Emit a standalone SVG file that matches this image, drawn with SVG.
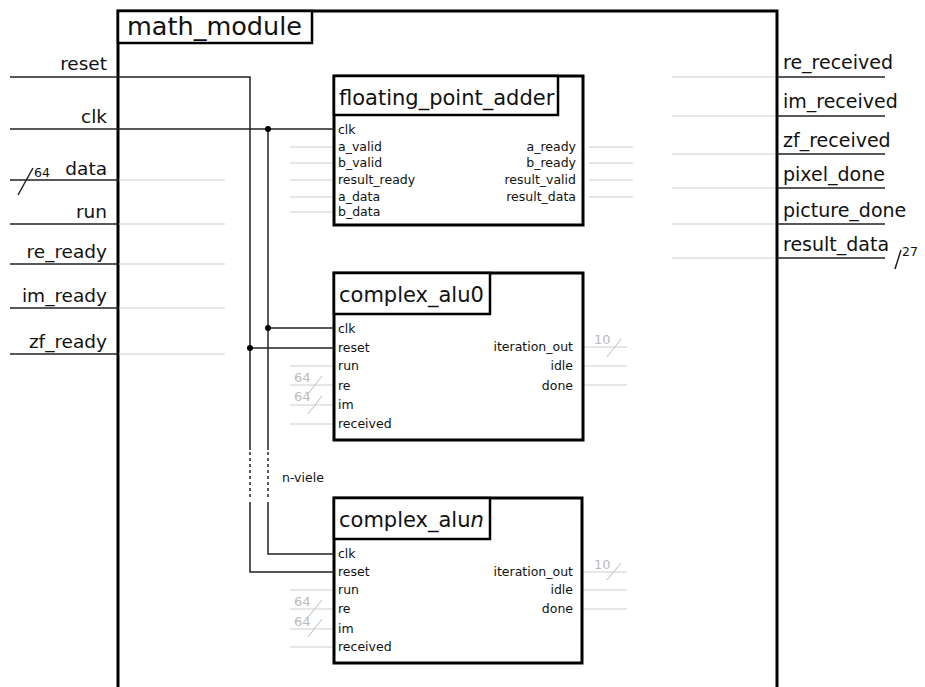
<svg xmlns="http://www.w3.org/2000/svg" width="925" height="687" viewBox="0 0 925 687">
  <style>
    text { font-family: "DejaVu Sans", "Liberation Sans", sans-serif; fill: #111; }
    .frame { fill: #fff; stroke: #000; stroke-width: 3; }
    .title { fill: #fff; stroke: #000; stroke-width: 2.5; }
    .sig { stroke: #222; stroke-width: 1.5; fill: none; }
    .dash { stroke: #222; stroke-width: 1.5; fill: none; stroke-dasharray: 3 3; }
    .ghost { stroke: #d0d0d0; stroke-width: 1.2; fill: none; }
    .lblL { font-size: 18.5px; text-anchor: end; }
    .lblR { font-size: 19px; }
    .ttl { font-size: 21px; }
    .port { font-size: 12.5px; }
    .portR { font-size: 12.5px; text-anchor: end; }
    .width { font-size: 12.5px; }
    .wgray { font-size: 13px; fill: #bbb; }
    .slashg { stroke: #bbb; stroke-width: 1; }
    .dot { fill: #000; }
  </style>

  <!-- top-level module frame -->
  <g id="math_module">
    <rect class="frame" x="118" y="11" width="659" height="690"/>
    <rect class="title" x="118" y="11" width="194" height="32"/>
    <text x="127" y="35" style="font-size:25.5px">math_module</text>
  </g>

  <!-- top-level ports, left side -->
  <g id="ports_in">
    <text class="lblL" x="107" y="70">reset</text>
    <text class="lblL" x="107" y="123">clk</text>
    <text class="lblL" x="107" y="175">data</text>
    <text class="width" x="34" y="177">64</text>
    <line class="sig" x1="18" y1="195" x2="33" y2="168"/>
    <text class="lblL" x="107" y="218">run</text>
    <text class="lblL" x="107" y="258">re_ready</text>
    <text class="lblL" x="107" y="302">im_ready</text>
    <text class="lblL" x="107" y="348">zf_ready</text>
    <line class="sig" x1="10" y1="180" x2="118" y2="180"/>
    <line class="sig" x1="10" y1="224" x2="118" y2="224"/>
    <line class="sig" x1="10" y1="264" x2="118" y2="264"/>
    <line class="sig" x1="10" y1="308" x2="118" y2="308"/>
    <line class="sig" x1="10" y1="354" x2="118" y2="354"/>
    <line class="ghost" x1="119" y1="180" x2="225" y2="180"/>
    <line class="ghost" x1="119" y1="224" x2="225" y2="224"/>
    <line class="ghost" x1="119" y1="264" x2="225" y2="264"/>
    <line class="ghost" x1="119" y1="308" x2="225" y2="308"/>
    <line class="ghost" x1="119" y1="354" x2="225" y2="354"/>
  </g>

  <!-- top-level ports, right side -->
  <g id="ports_out">
    <text class="lblR" x="783" y="69">re_received</text>
    <text class="lblR" x="783" y="108">im_received</text>
    <text class="lblR" x="783" y="147">zf_received</text>
    <text class="lblR" x="783" y="181">pixel_done</text>
    <text class="lblR" x="783" y="217">picture_done</text>
    <text class="lblR" x="783" y="251">result_data</text>
    <text class="width" x="902" y="256">27</text>
    <line class="sig" x1="895" y1="269" x2="901" y2="250"/>
    <line class="sig" x1="777" y1="77" x2="885" y2="77"/>
    <line class="sig" x1="777" y1="116" x2="885" y2="116"/>
    <line class="sig" x1="777" y1="154" x2="885" y2="154"/>
    <line class="sig" x1="777" y1="188" x2="885" y2="188"/>
    <line class="sig" x1="777" y1="224" x2="885" y2="224"/>
    <line class="sig" x1="777" y1="258" x2="885" y2="258"/>
    <line class="ghost" x1="672" y1="77" x2="775" y2="77"/>
    <line class="ghost" x1="672" y1="116" x2="775" y2="116"/>
    <line class="ghost" x1="672" y1="154" x2="775" y2="154"/>
    <line class="ghost" x1="672" y1="188" x2="775" y2="188"/>
    <line class="ghost" x1="672" y1="224" x2="775" y2="224"/>
    <line class="ghost" x1="672" y1="258" x2="775" y2="258"/>
  </g>

  <!-- floating point adder instance -->
  <g id="floating_point_adder">
    <line class="ghost" x1="290" y1="147" x2="334" y2="147"/>
    <line class="ghost" x1="290" y1="163" x2="334" y2="163"/>
    <line class="ghost" x1="290" y1="180" x2="334" y2="180"/>
    <line class="ghost" x1="290" y1="197" x2="334" y2="197"/>
    <line class="ghost" x1="290" y1="212" x2="334" y2="212"/>
    <line class="ghost" x1="589" y1="147" x2="633" y2="147"/>
    <line class="ghost" x1="589" y1="163" x2="633" y2="163"/>
    <line class="ghost" x1="589" y1="180" x2="633" y2="180"/>
    <line class="ghost" x1="589" y1="197" x2="633" y2="197"/>
    <rect class="frame" x="334" y="76" width="249" height="149"/>
    <rect class="title" x="334" y="76" width="224" height="39"/>
    <text class="ttl" x="339" y="105">floating_point_adder</text>
    <text class="port" x="338" y="134">clk</text>
    <text class="port" x="338" y="151">a_valid</text>
    <text class="port" x="338" y="167">b_valid</text>
    <text class="port" x="338" y="184">result_ready</text>
    <text class="port" x="338" y="201">a_data</text>
    <text class="port" x="338" y="216">b_data</text>
    <text class="portR" x="576" y="151">a_ready</text>
    <text class="portR" x="576" y="167">b_ready</text>
    <text class="portR" x="576" y="184">result_valid</text>
    <text class="portR" x="576" y="201">result_data</text>
  </g>

  <!-- complex ALU instance 0 -->
  <g id="complex_alu0">
    <line class="ghost" x1="290" y1="366" x2="334" y2="366"/>
    <line class="ghost" x1="290" y1="385" x2="334" y2="385"/>
    <line class="ghost" x1="290" y1="405" x2="334" y2="405"/>
    <line class="ghost" x1="290" y1="424" x2="334" y2="424"/>
    <text class="wgray" x="294" y="382">64</text>
    <line class="slashg" x1="308" y1="394" x2="322" y2="376"/>
    <text class="wgray" x="294" y="401">64</text>
    <line class="slashg" x1="308" y1="414" x2="322" y2="396"/>
    <line class="ghost" x1="583" y1="347" x2="627" y2="347"/>
    <line class="ghost" x1="583" y1="366" x2="627" y2="366"/>
    <line class="ghost" x1="583" y1="385" x2="627" y2="385"/>
    <text class="wgray" x="594" y="344">10</text>
    <line class="slashg" x1="607" y1="357" x2="621" y2="339"/>
    <rect class="frame" x="334" y="273" width="249" height="167"/>
    <rect class="title" x="334" y="273" width="156" height="41"/>
    <text class="ttl" x="339" y="302">complex_alu0</text>
    <text class="port" x="338" y="333">clk</text>
    <text class="port" x="338" y="352">reset</text>
    <text class="port" x="338" y="370">run</text>
    <text class="port" x="338" y="390">re</text>
    <text class="port" x="338" y="409">im</text>
    <text class="port" x="338" y="428">received</text>
    <text class="portR" x="573" y="351">iteration_out</text>
    <text class="portR" x="573" y="370">idle</text>
    <text class="portR" x="573" y="390">done</text>
  </g>

  <!-- complex ALU instance n -->
  <g id="complex_alun">
    <line class="ghost" x1="290" y1="590" x2="334" y2="590"/>
    <line class="ghost" x1="290" y1="609" x2="334" y2="609"/>
    <line class="ghost" x1="290" y1="629" x2="334" y2="629"/>
    <line class="ghost" x1="290" y1="647" x2="334" y2="647"/>
    <text class="wgray" x="294" y="606">64</text>
    <line class="slashg" x1="308" y1="617" x2="322" y2="600"/>
    <text class="wgray" x="294" y="626">64</text>
    <line class="slashg" x1="308" y1="637" x2="322" y2="619"/>
    <line class="ghost" x1="582" y1="572" x2="627" y2="572"/>
    <line class="ghost" x1="582" y1="590" x2="627" y2="590"/>
    <line class="ghost" x1="582" y1="609" x2="627" y2="609"/>
    <text class="wgray" x="594" y="569">10</text>
    <line class="slashg" x1="607" y1="580" x2="621" y2="563"/>
    <rect class="frame" x="334" y="498" width="248" height="165"/>
    <rect class="title" x="334" y="498" width="156" height="41"/>
    <text class="ttl" x="339" y="527">complex_alu<tspan font-style="italic">n</tspan></text>
    <text class="port" x="338" y="558">clk</text>
    <text class="port" x="338" y="576">reset</text>
    <text class="port" x="338" y="594">run</text>
    <text class="port" x="338" y="613">re</text>
    <text class="port" x="338" y="633">im</text>
    <text class="port" x="338" y="651">received</text>
    <text class="portR" x="573" y="576">iteration_out</text>
    <text class="portR" x="573" y="594">idle</text>
    <text class="portR" x="573" y="613">done</text>
  </g>

  <!-- clock and reset distribution -->
  <g id="connectors">
    <polyline class="sig" points="10,77 250,77 250,450"/>
    <line class="dash" x1="250" y1="452" x2="250" y2="500"/>
    <polyline class="sig" points="250,502 250,572 334,572"/>
    <line class="sig" x1="10" y1="129" x2="334" y2="129"/>
    <line class="sig" x1="268" y1="129" x2="268" y2="450"/>
    <line class="dash" x1="268" y1="452" x2="268" y2="500"/>
    <polyline class="sig" points="268,502 268,554 334,554"/>
    <line class="sig" x1="268" y1="328" x2="334" y2="328"/>
    <line class="sig" x1="250" y1="348" x2="334" y2="348"/>
    <circle class="dot" cx="268" cy="129" r="3"/>
    <circle class="dot" cx="268" cy="328" r="3"/>
    <circle class="dot" cx="250" cy="348" r="3"/>
    <text x="282" y="482" style="font-size:12.5px">n-viele</text>
  </g>
</svg>
